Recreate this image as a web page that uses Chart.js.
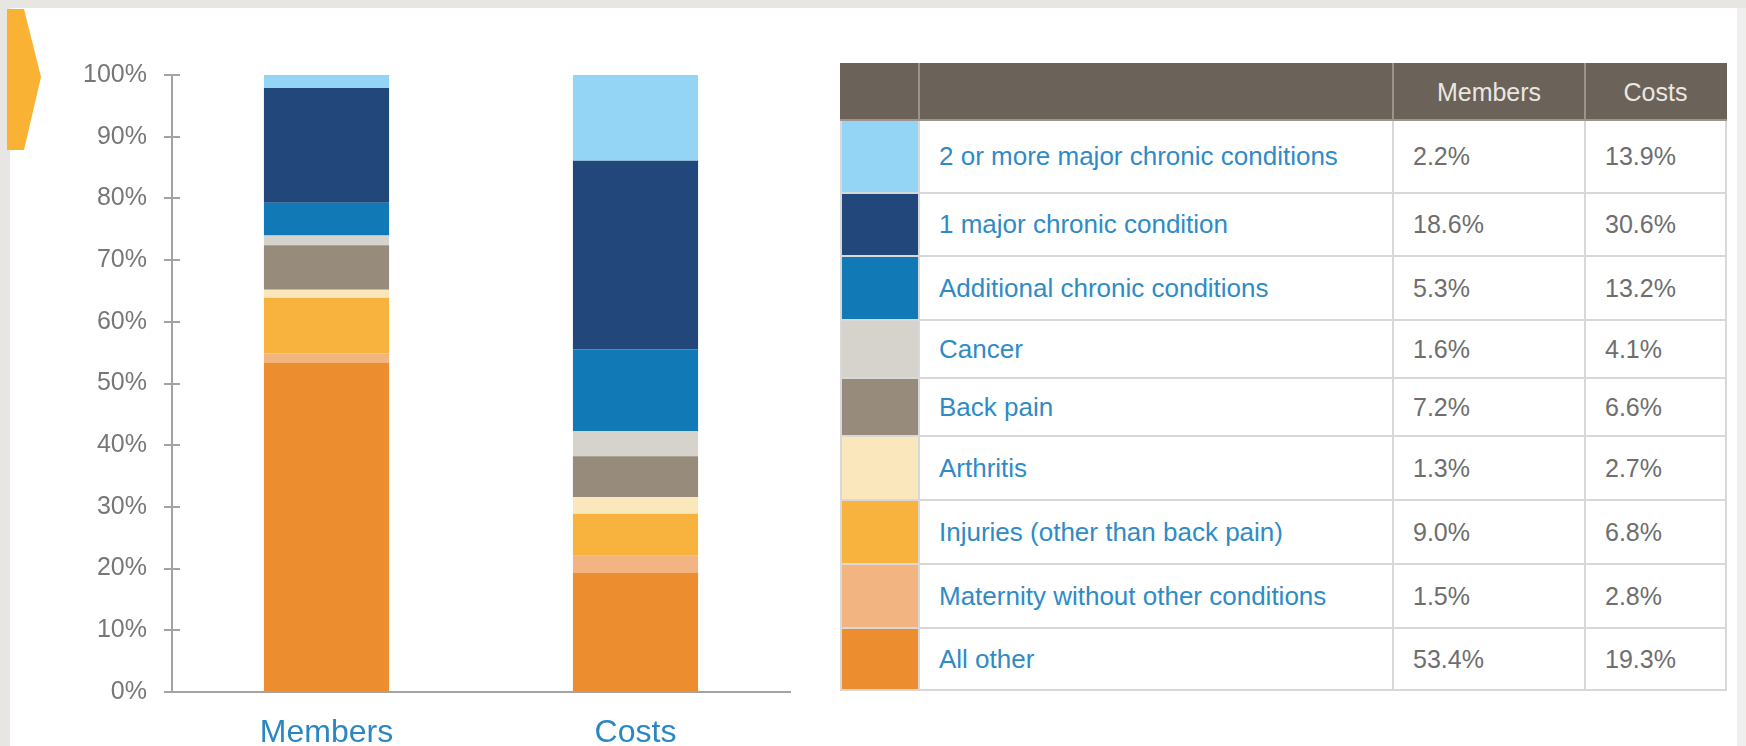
<!DOCTYPE html>
<html><head><meta charset="utf-8">
<script src="https://cdn.jsdelivr.net/npm/chart.js@4.4.0/dist/chart.umd.min.js"></script>
<style>
html,body{margin:0;padding:0;width:1746px;height:746px;overflow:hidden;background:#e8e6e3;font-family:"Liberation Sans",Arial,sans-serif;}
#panel{position:absolute;left:10px;top:8px;width:1727px;height:738px;background:#fff;}
#rstrip{position:absolute;left:1737px;top:8px;width:9px;height:738px;background:#f0efed;}
#arrow{position:absolute;left:7px;top:9px;}
#wrap{position:absolute;left:0;top:0;width:830px;height:746px;}
#tbl{position:absolute;left:840px;top:63px;border-collapse:collapse;table-layout:fixed;}
#tbl td,#tbl th{border:2px solid #d8d8d8;padding:0;box-sizing:border-box;}
#tbl th{background:#6b6259;color:#ebe7e2;font-weight:normal;font-size:25px;text-align:center;border-color:#9c948b;border-top-color:#6b6259;}
#tbl th:first-child{border-left-color:#6b6259;}
#tbl th:last-child{border-right-color:#6b6259;}
#tbl td.lab{color:#2f8bc6;font-size:26px;padding-left:19px;}
#tbl td.num{color:#6e6e6e;font-size:25px;padding-left:19px;}
</style></head>
<body>
<div id="panel"></div>
<div id="rstrip"></div>
<svg id="arrow" width="36" height="142"><polygon points="0,0 17,0 34,68 17,141 0,141" fill="#f9b234"/></svg>
<div id="wrap"><canvas id="c" width="830" height="746"></canvas></div>
<table id="tbl"></table>
<script>
// ---- data ----
const categories = ['Members', 'Costs'];
const seriesNames = [
  'All other',
  'Maternity without other conditions',
  'Injuries (other than back pain)',
  'Arthritis',
  'Back pain',
  'Cancer',
  'Additional chronic conditions',
  '1 major chronic condition',
  '2 or more major chronic conditions'
];
const membersValues = [53.4, 1.5, 9.0, 1.3, 7.2, 1.6, 5.3, 18.6, 2.2];
const costsValues   = [19.3, 2.8, 6.8, 2.7, 6.6, 4.1, 13.2, 30.6, 13.9];
const yTickValues = [0, 10, 20, 30, 40, 50, 60, 70, 80, 90, 100];

// ---- styles ----
const seriesColors = ['#ec8d2f', '#f2b582', '#f8b33e', '#fbe7bc', '#978b7c', '#d6d2cc', '#1079b6', '#21477b', '#94d4f4'];
const rowHeights = [73, 63, 64, 58, 58, 64, 64, 64, 62];
const headerHeight = 56;
const colWidths = [78, 474, 192, 141];

const datasets = seriesNames.map((name, i) => ({
  label: name,
  data: [membersValues[i], costsValues[i]],
  backgroundColor: seriesColors[i],
  borderWidth: 0,
  categoryPercentage: 1,
  barPercentage: 0.405
}));

const innerTicks = {
  id: 'innerTicks',
  afterDraw(chart) {
    const s = chart.scales.y, ctx = chart.ctx;
    ctx.save();
    ctx.strokeStyle = '#a3a3a3';
    ctx.lineWidth = 2;
    s.ticks.forEach((t, i) => {
      const y = Math.round(s.getPixelForTick(i));
      ctx.beginPath();
      ctx.moveTo(s.right, y);
      ctx.lineTo(s.right + 8, y);
      ctx.stroke();
    });
    ctx.restore();
  }
};

new Chart(document.getElementById('c'), {
  type: 'bar',
  data: { labels: categories, datasets },
  plugins: [innerTicks],
  options: {
    responsive: false,
    animation: false,
    layout: { padding: { top: 75, right: 40, left: 0, bottom: 0 } },
    plugins: { legend: { display: false }, tooltip: { enabled: false } },
    scales: {
      x: {
        stacked: true,
        ticks: { color: '#2b87c3', font: { size: 32, family: 'Liberation Sans' }, padding: 22 },
        grid: { display: true, drawOnChartArea: false, drawTicks: false, color: '#a3a3a3', lineWidth: 2 },
        border: { display: true, color: '#a3a3a3', width: 2 },
        afterFit(s) { s.height = 54; }
      },
      y: {
        stacked: true,
        min: 0, max: 100,
        afterBuildTicks(s) { s.ticks = yTickValues.map(v => ({ value: v })); },
        ticks: { callback: v => v + '%', color: '#777777', font: { size: 25, family: 'Liberation Sans' }, padding: 17 },
        grid: { drawOnChartArea: false, drawTicks: true, tickLength: 8, tickWidth: 2, tickColor: '#a3a3a3', color: '#a3a3a3', lineWidth: 2 },
        border: { display: true, color: '#a3a3a3', width: 2 },
        afterFit(s) { s.width = 172; }
      }
    }
  }
});

// ---- table built from the same arrays ----
const tbl = document.getElementById('tbl');
const cg = document.createElement('colgroup');
colWidths.forEach(w => { const c = document.createElement('col'); c.style.width = w + 'px'; cg.appendChild(c); });
tbl.appendChild(cg);
const hr = document.createElement('tr');
hr.style.height = headerHeight + 'px';
['', '', categories[0], categories[1]].forEach(t => { const th = document.createElement('th'); th.textContent = t; hr.appendChild(th); });
tbl.appendChild(hr);
for (let k = 0; k < seriesNames.length; k++) {
  const i = seriesNames.length - 1 - k;
  const tr = document.createElement('tr');
  tr.style.height = rowHeights[k] + 'px';
  const sw = document.createElement('td'); sw.style.background = seriesColors[i]; tr.appendChild(sw);
  const lb = document.createElement('td'); lb.className = 'lab'; lb.textContent = seriesNames[i]; tr.appendChild(lb);
  const m = document.createElement('td'); m.className = 'num'; m.textContent = membersValues[i].toFixed(1) + '%'; tr.appendChild(m);
  const c = document.createElement('td'); c.className = 'num'; c.textContent = costsValues[i].toFixed(1) + '%'; tr.appendChild(c);
  tbl.appendChild(tr);
}
</script>
</body></html>
